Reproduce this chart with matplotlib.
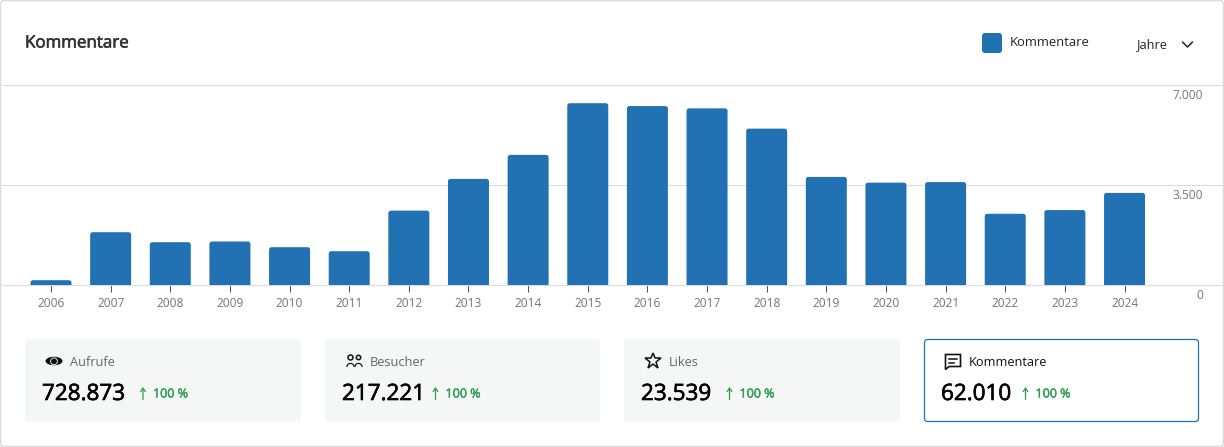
import matplotlib
matplotlib.use("Agg")
import matplotlib.pyplot as plt
import matplotlib.patheffects as pe
from matplotlib.patches import FancyBboxPatch, Ellipse, Circle, Wedge, Polygon

years = [str(y) for y in range(2006, 2025)]
comments = [175, 1855, 1505, 1530, 1330, 1190, 2610, 3720, 4560, 6370, 6270, 6190, 5480, 3790, 3590, 3610, 2500, 2630, 3230]
y_ticks = [0, 3500, 7000]
y_tick_labels = ["0", "3.500", "7.000"]
card_titles = ["Aufrufe", "Besucher", "Likes", "Kommentare"]
card_values = ["728.873", "217.221", "23.539", "62.010"]
card_change = ["100 %", "100 %", "100 %", "100 %"]

BLUE = "#2272b3"
GRID = "#dcdcdc"
GREY = "#757575"
GREEN = "#2f9e50"
plt.rcParams["font.family"] = ["Open Sans", "DejaVu Sans"]

W, H = 1224, 447
fig = plt.figure(figsize=(W / 100, H / 100), dpi=100, facecolor="white")

ov = fig.add_axes([0, 0, 1, 1], zorder=0)
ov.set_xlim(0, W); ov.set_ylim(H, 0); ov.axis("off")

def rbox(x0, y0, x1, y1, r=3, fc="none", ec="none", lw=1, z=1):
    ov.add_patch(FancyBboxPatch((x0 + r, y0 + r), x1 - x0 - 2 * r, y1 - y0 - 2 * r,
                                boxstyle=f"round,pad={r},rounding_size={r}",
                                fc=fc, ec=ec, lw=lw, zorder=z))

rbox(0.5, 0.5, 1223.5, 446.5, r=4, fc="white", ec=GRID, lw=1.1)

# chart axes
L, R, T, B = 2, 1223, 85.2, 285.2
ax = fig.add_axes([L / W, 1 - B / H, (R - L) / W, (B - T) / H], zorder=2)
ax.patch.set_alpha(0)
step = 59.64
x0px = 51.0
ax.set_xlim((L - x0px) / step, (R - x0px) / step)
ax.set_ylim(0, 7000)
bars = ax.bar(range(len(years)), comments, width=41 / step, color=BLUE, zorder=3)
# rounded top corners, the square foot of each box is clipped by the axis
r_px = 2.5
for b in bars:
    b.set_visible(False)
    r_x = r_px / step
    asp = 35 * step
    foot = 3 * 35
    ax.add_patch(FancyBboxPatch((b.get_x(), -foot), b.get_width(), b.get_height() + foot,
                                boxstyle=f"round,pad=0,rounding_size={r_x}",
                                mutation_aspect=asp, fc=BLUE, ec="none", zorder=3))
for s in ["top", "left", "right"]:
    ax.spines[s].set_visible(False)
ax.spines["bottom"].set_color(GRID)
ax.spines["bottom"].set_linewidth(0.75)
ax.set_xticks(range(len(years)), years)
ax.tick_params(axis="x", length=5, width=0.75, color="#555555", pad=3.5, labelsize=8.6, labelcolor=GREY)
ax.set_yticks(y_ticks, [""] * 3)
ax.tick_params(axis="y", length=0)
ax.grid(axis="y", color=GRID, lw=0.75, zorder=0, clip_on=False)
ax.set_axisbelow(True)
for v, lab in zip(y_ticks, y_tick_labels):
    ax.annotate(lab, xy=(1, v), xycoords=("axes fraction", "data"), xytext=(-14.4, -2.6),
                textcoords="offset points", ha="right", va="top", fontsize=8.6, color=GREY, annotation_clip=False)

ov.text(25, 43.5, "Kommentare", fontsize=12.2, color="#333333", va="center",
        path_effects=[pe.withStroke(linewidth=0.45, foreground="#333333")])
rbox(982, 33, 1002, 53, r=3, fc=BLUE)
ov.text(1010, 43, "Kommentare", fontsize=9.4, color="#222222", va="center")
ov.text(1137, 44.5, "Jahre", fontsize=9.2, color="#222222", va="center")
ov.plot([1182.5, 1187.5, 1192.5], [42, 47, 42], color="#222222", lw=1.1, solid_capstyle="round")

# cards
cards = [(25, 301), (325, 600), (624, 900), (924, 1199)]
arrow_x = [143, 435.5, 729.5, 1025.5]
for i, (x0, x1) in enumerate(cards):
    active = i == 3
    if active:
        rbox(x0 + .5, 339.5, x1 - .5, 421.5, r=3, fc="white", ec=BLUE, lw=0.9)
    else:
        rbox(x0, 339, x1, 422, r=3, fc="#f5f7f6")
    ov.text(x0 + 45, 362, card_titles[i], fontsize=9.2, color="#111111" if active else "#666666", va="center")
    ov.text(x0 + 17, 394.5, card_values[i], fontsize=16.2, color="black", va="center",
            path_effects=[pe.withStroke(linewidth=0.45, foreground="black")])
    ax_x = arrow_x[i]
    ov.annotate("", xy=(ax_x, 387), xytext=(ax_x, 399.5),
                arrowprops=dict(arrowstyle="->,head_width=0.17,head_length=0.25", color=GREEN, lw=0.9, shrinkA=0, shrinkB=0))
    ov.text(ax_x + 10, 394, card_change[i], fontsize=9, color=GREEN, va="center",
            path_effects=[pe.withStroke(linewidth=0.3, foreground=GREEN)])

# icons
k = "#111111"
cx, cy = 54, 361
ov.add_patch(Ellipse((cx, cy), 17, 8.5, fc=k, ec="none", zorder=3))
ov.add_patch(Circle((cx, cy + 0.3), 3.4, fc=k, ec="white", lw=0.6, zorder=4))
for cx, r in [(350.5, 2.5), (358.5, 2.2)]:
    ov.add_patch(Circle((cx, 357.5), r, fc="none", ec=k, lw=1.1, zorder=3))
    ov.add_patch(Wedge((cx, 367), 4.2, 180, 360, width=1.2, fc=k, ec="none", zorder=3))
ov.plot([653], [361], marker="*", ms=12, mfc="none", mec=k, mew=1.1, zorder=3)
ov.add_patch(Polygon([(945.5, 354.5), (960.5, 354.5), (960.5, 366.5), (949, 366.5), (945.5, 369.5)],
                     closed=True, fc="none", ec=k, lw=1.2, zorder=3))
ov.plot([949, 957], [358.5, 358.5], color=k, lw=1.1)
ov.plot([949, 954], [362.5, 362.5], color=k, lw=1.1)

fig.savefig("out.png", dpi=100)
